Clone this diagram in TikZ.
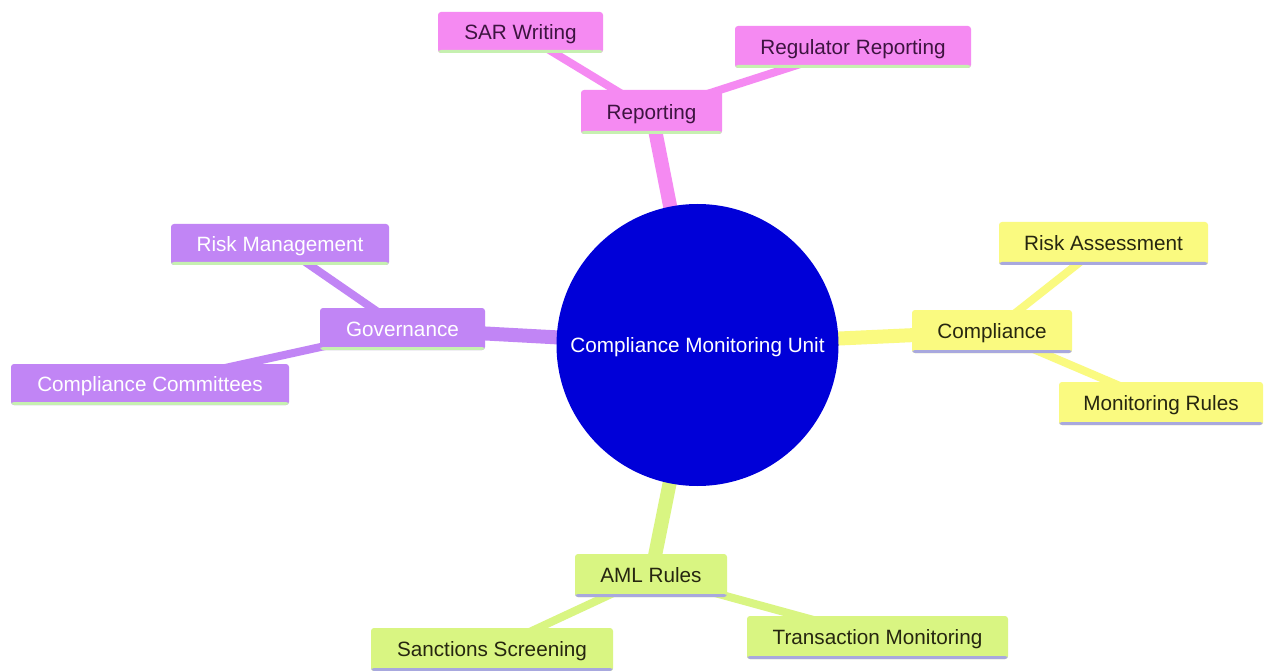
\documentclass[tikz,border=0pt]{standalone}
\usepackage{fontspec}
\setmainfont{Liberation Sans}
\usetikzlibrary{backgrounds}
\definecolor{pinkF}{HTML}{F58AF2}
\definecolor{purpF}{HTML}{C185F5}
\definecolor{yelF}{HTML}{FAFA80}
\definecolor{grnF}{HTML}{D9F582}
\definecolor{blueF}{HTML}{0000D8}
\definecolor{stripG}{HTML}{C6F0B0}
\definecolor{stripL}{HTML}{A8A8DE}
\definecolor{pinkT}{HTML}{3D1440}
\definecolor{darkT}{HTML}{262610}
\tikzset{
  txt/.style={font=\fontsize{20.7}{24}\selectfont, text height=16.5pt, text depth=2pt},
  box/.style={rectangle, rounded corners=3pt, inner sep=0pt, txt},
  strip/.style={path picture={\fill[#1] ([yshift=3pt]path picture bounding box.south west) rectangle (path picture bounding box.south east);}},
  pinkbox/.style={box, fill=pinkF, text=pinkT, strip=stripG},
  purpbox/.style={box, fill=purpF, text=white, strip=stripG},
  yelbox/.style={box, fill=yelF, text=darkT, strip=stripL},
  grnbox/.style={box, fill=grnF, text=darkT, strip=stripL},
  lone/.style={line width=14pt},
  ltwo/.style={line width=8pt},
}
\begin{document}
\begin{tikzpicture}[x=1pt,y=-1pt]
\useasboundingbox (0,0) rectangle (1264,671);
% centre
\node[circle, fill=blueF, minimum size=282pt, inner sep=0pt, text=white, txt] (root) at (697.5,345) {Compliance Monitoring Unit};
% reporting branch
\node[pinkbox, minimum width=141pt, minimum height=44pt] (rep) at (651.5,112) {Reporting};
\node[pinkbox, minimum width=165pt, minimum height=41pt] (sar) at (520.5,32.5) {SAR Writing};
\node[pinkbox, minimum width=236pt, minimum height=42pt] (reg) at (853,47) {Regulator Reporting};
% governance branch
\node[purpbox, minimum width=165pt, minimum height=42pt] (gov) at (402.5,329) {Governance};
\node[purpbox, minimum width=218pt, minimum height=41pt] (rm) at (280,244.5) {Risk Management};
\node[purpbox, minimum width=278pt, minimum height=41pt] (cc) at (150,384.5) {Compliance Committees};
% compliance branch
\node[yelbox, minimum width=160pt, minimum height=43pt] (comp) at (992,331.5) {Compliance};
\node[yelbox, minimum width=209pt, minimum height=43pt] (ra) at (1103.5,243.5) {Risk Assessment};
\node[yelbox, minimum width=204pt, minimum height=43pt] (mr) at (1161,403.5) {Monitoring Rules};
% aml branch
\node[grnbox, minimum width=152pt, minimum height=43pt] (aml) at (651,575.5) {AML Rules};
\node[grnbox, minimum width=242pt, minimum height=43pt] (ss) at (492,649.5) {Sanctions Screening};
\node[grnbox, minimum width=261pt, minimum height=43pt] (tm) at (877.5,637.5) {Transaction Monitoring};
\begin{scope}[on background layer]
\fill[white] (0,0) rectangle (1264,671);
\draw[lone, pinkF] (root.center) -- (rep.center);
\draw[ltwo, pinkF] (rep.center) -- (sar.center);
\draw[ltwo, pinkF] (rep.center) -- (reg.center);
\draw[lone, purpF] (root.center) -- (gov.center);
\draw[ltwo, purpF] (gov.center) -- (rm.center);
\draw[ltwo, purpF] (gov.center) -- (cc.center);
\draw[lone, yelF] (root.center) -- (comp.center);
\draw[ltwo, yelF] (comp.center) -- (ra.center);
\draw[ltwo, yelF] (comp.center) -- (mr.center);
\draw[lone, grnF] (root.center) -- (aml.center);
\draw[ltwo, grnF] (aml.center) -- (ss.center);
\draw[ltwo, grnF] (aml.center) -- (tm.center);
\end{scope}
\end{tikzpicture}
\end{document}
